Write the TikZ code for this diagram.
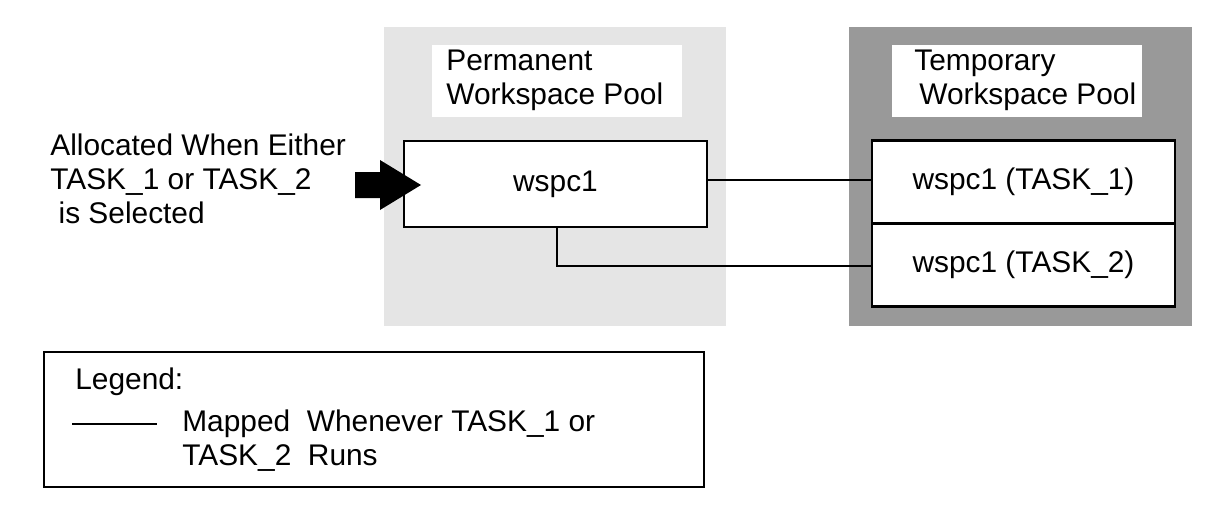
\documentclass[tikz,border=0pt]{standalone}
\usepackage{fontspec}
\setmainfont{Liberation Sans}
\begin{document}
\begin{tikzpicture}[x=0.02cm,y=-0.02cm,
  txt/.style={font=\fontsize{17pt}{19.3pt}\selectfont,inner sep=0pt},
  box/.style={draw,line width=1.6pt,fill=white},
  link/.style={line width=0.7pt}]
\useasboundingbox (0,0) rectangle (1210,510);
\fill[gray!20] (384,27) rectangle (726,326);
\fill[gray!80] (849,27) rectangle (1192,326);
\fill[white] (432,45) rectangle (682,117);
\fill[white] (892,45) rectangle (1142,117);
\node[txt,anchor=north west,align=left] (pl) at (446,50) {Permanent\\Workspace Pool};
\node[txt,anchor=north west,align=left] (tl) at (914,50) {Temporary\\\,Workspace Pool};
\node[box,minimum width=303*0.02cm,minimum height=86*0.02cm,inner sep=0pt,txt] (w) at (555.5,184) {wspc1};
\node[box,minimum width=303*0.02cm,minimum height=83*0.02cm,inner sep=0pt,txt] (t1) at (1023.5,182) {wspc1 (TASK\_1)};
\node[box,minimum width=303*0.02cm,minimum height=83*0.02cm,inner sep=0pt,txt] (t2) at (1023.5,265) {wspc1 (TASK\_2)};
\coordinate (r) at (707,180);
\draw[link] (r) -- (r -| t1.west);
\coordinate (c) at (557,266);
\draw[link] (w.south -| c) -- (c) -- (c -| t2.west);
\node[txt,anchor=north west,align=left] (al) at (50,134) {Allocated When Either\\TASK\_1 or TASK\_2\\\ is Selected};
\coordinate (tip) at (421,185);
\fill (355,172) -- (380,172) -- (380,160) -- (tip) -- (380,210) -- (380,198) -- (355,198) -- cycle;
\node[draw,line width=0.8pt,minimum width=660*0.02cm,minimum height=135*0.02cm,inner sep=0pt] (lg) at (374,419.5) {};
\node[txt,anchor=north west] (lt) at (75,368) {Legend:};
\coordinate (l1) at (72,424); \coordinate (l2) at (157,424);
\draw[link] (l1) -- (l2);
\node[txt,anchor=north west,align=left] (lx) at (182,410) {Mapped\ \ Whenever TASK\_1 or\\TASK\_2\ \ Runs};
\end{tikzpicture}
\end{document}
